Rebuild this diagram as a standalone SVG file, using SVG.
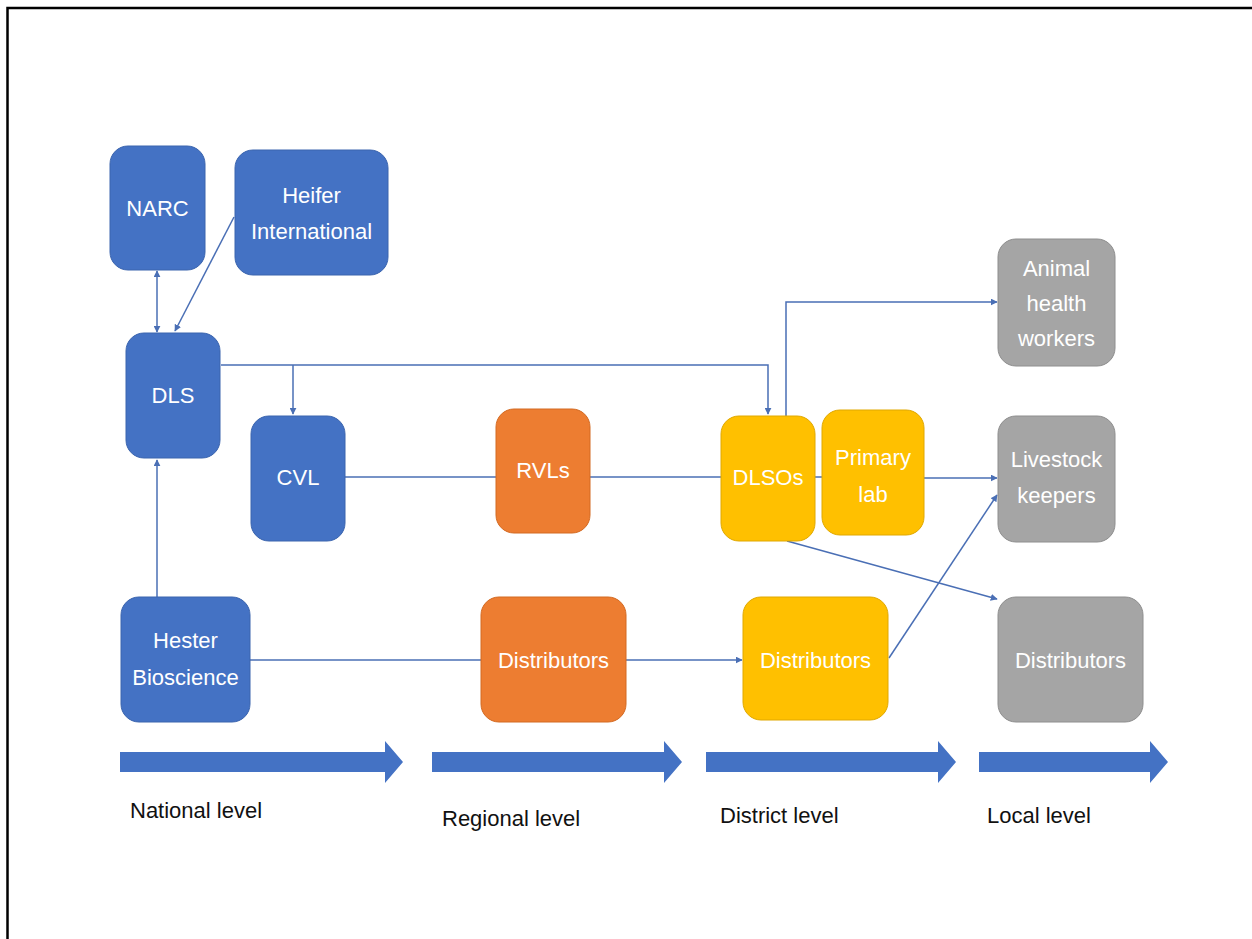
<svg xmlns="http://www.w3.org/2000/svg" width="1252" height="939" viewBox="0 0 1252 939">
<style>
.b{fill:#4472C4;stroke:#3A64AE;stroke-width:1}
.o{fill:#ED7D31;stroke:#D36A22;stroke-width:1}
.y{fill:#FFC000;stroke:#E0A800;stroke-width:1}
.g{fill:#A5A5A5;stroke:#8E8E8E;stroke-width:1}
.t{font-family:"Liberation Sans",Arial,sans-serif;font-size:22px;fill:#fff;text-anchor:middle}
.l{font-family:"Liberation Sans",Arial,sans-serif;font-size:22px;fill:#111}
.c{fill:none;stroke:#4A6FB5;stroke-width:1.5}
.big{fill:#4472C4}
</style>
<defs>
<marker id="ah" viewBox="0 0 10 10" refX="9" refY="5" markerWidth="7" markerHeight="7" markerUnits="userSpaceOnUse" orient="auto-start-reverse">
<path d="M0,0 L10,5 L0,10 z" fill="#4A6FB5"/>
</marker>
</defs>
<rect x="0" y="0" width="1252" height="939" fill="#fff"/>
<path d="M7.5,939 L7.5,8 L1252,8" fill="none" stroke="#000" stroke-width="2.5"/>

<g id="connectors">
<line class="c" x1="157" y1="271" x2="157" y2="332" marker-start="url(#ah)" marker-end="url(#ah)"/>
<line class="c" x1="234" y1="217" x2="175" y2="331" marker-end="url(#ah)"/>
<polyline class="c" points="221,365 768,365 768,414" marker-end="url(#ah)"/>
<line class="c" x1="293" y1="365" x2="293" y2="414" marker-end="url(#ah)"/>
<polyline class="c" points="786,416 786,302 997,302" marker-end="url(#ah)"/>
<line class="c" x1="345" y1="477" x2="496" y2="477"/>
<line class="c" x1="590" y1="477" x2="721" y2="477"/>
<line class="c" x1="815" y1="477" x2="822" y2="477"/>
<line class="c" x1="924" y1="478" x2="997" y2="478" marker-end="url(#ah)"/>
<line class="c" x1="787" y1="541" x2="997" y2="599" marker-end="url(#ah)"/>
<line class="c" x1="889" y1="658" x2="997" y2="495" marker-end="url(#ah)"/>
<line class="c" x1="157" y1="597" x2="157" y2="460" marker-end="url(#ah)"/>
<line class="c" x1="250" y1="660" x2="481" y2="660"/>
<line class="c" x1="626" y1="660" x2="742" y2="660" marker-end="url(#ah)"/>
</g>

<g id="NARC"><rect class="b" x="110" y="146" width="95" height="124" rx="18"/><text class="t" x="157.5" y="216">NARC</text></g>
<g id="Heifer"><rect class="b" x="235" y="150" width="153" height="125" rx="18"/><text class="t" x="311.5" y="203">Heifer</text><text class="t" x="311.5" y="239">International</text></g>
<g id="DLS"><rect class="b" x="126" y="333" width="94" height="125" rx="18"/><text class="t" x="173" y="403">DLS</text></g>
<g id="CVL"><rect class="b" x="251" y="416" width="94" height="125" rx="18"/><text class="t" x="298" y="485">CVL</text></g>
<g id="RVLs"><rect class="o" x="496" y="409" width="94" height="124" rx="18"/><text class="t" x="543" y="478">RVLs</text></g>
<g id="DLSOs"><rect class="y" x="721" y="416" width="94" height="125" rx="18"/><text class="t" x="768" y="485">DLSOs</text></g>
<g id="PrimaryLab"><rect class="y" x="822" y="410" width="102" height="125" rx="18"/><text class="t" x="873" y="465">Primary</text><text class="t" x="873" y="502">lab</text></g>
<g id="AnimalHealth"><rect class="g" x="998" y="239" width="117" height="127" rx="18"/><text class="t" x="1056.5" y="276">Animal</text><text class="t" x="1056.5" y="311">health</text><text class="t" x="1056.5" y="346">workers</text></g>
<g id="Livestock"><rect class="g" x="998" y="416" width="117" height="126" rx="18"/><text class="t" x="1056.5" y="467">Livestock</text><text class="t" x="1056.5" y="503">keepers</text></g>
<g id="Hester"><rect class="b" x="121" y="597" width="129" height="125" rx="18"/><text class="t" x="185.5" y="648">Hester</text><text class="t" x="185.5" y="685">Bioscience</text></g>
<g id="DistRegional"><rect class="o" x="481" y="597" width="145" height="125" rx="18"/><text class="t" x="553.5" y="668">Distributors</text></g>
<g id="DistDistrict"><rect class="y" x="743" y="597" width="145" height="123" rx="18"/><text class="t" x="815.5" y="668">Distributors</text></g>
<g id="DistLocal"><rect class="g" x="998" y="597" width="145" height="125" rx="18"/><text class="t" x="1070.5" y="668">Distributors</text></g>

<g id="levels">
<path class="big" d="M120,752 L385,752 L385,741 L403,762 L385,783 L385,772 L120,772 z"/>
<path class="big" d="M432,752 L664,752 L664,741 L682,762 L664,783 L664,772 L432,772 z"/>
<path class="big" d="M706,752 L938,752 L938,741 L956,762 L938,783 L938,772 L706,772 z"/>
<path class="big" d="M979,752 L1150,752 L1150,741 L1168,762 L1150,783 L1150,772 L979,772 z"/>
<text class="l" x="130" y="818">National level</text>
<text class="l" x="442" y="826">Regional level</text>
<text class="l" x="720" y="823">District level</text>
<text class="l" x="987" y="823">Local level</text>
</g>
</svg>
